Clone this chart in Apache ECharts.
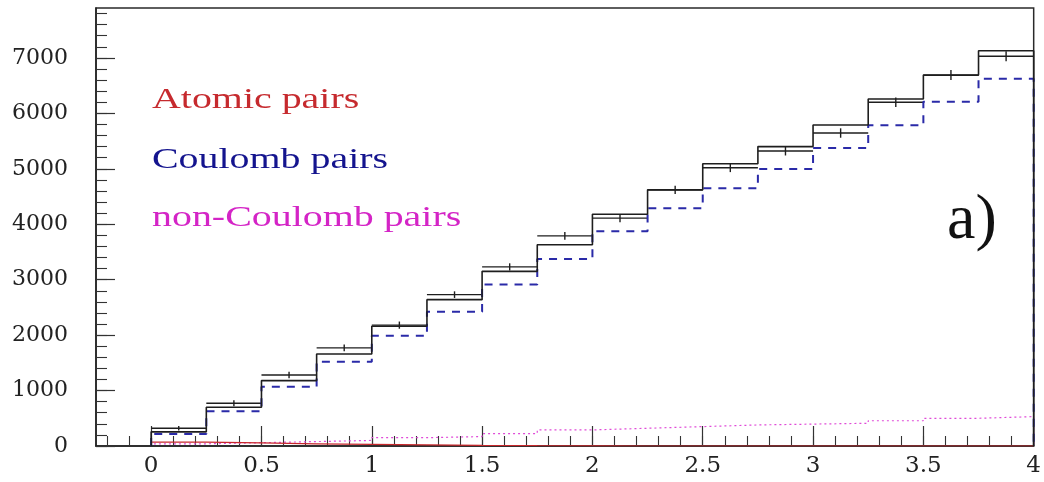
<!DOCTYPE html>
<html>
<head>
<meta charset="utf-8">
<script src="https://cdn.jsdelivr.net/npm/echarts@6/dist/echarts.min.js"></script>
<style>
  html, body { margin: 0; padding: 0; background: #ffffff; }
  #chart { width: 1044px; height: 482px; }
</style>
</head>
<body>
<div id="chart"></div>
<script>
// Histogram bin edges (Q, MeV/c)
const binEdges = [0, 0.25, 0.5, 0.75, 1, 1.25, 1.5, 1.75, 2, 2.25, 2.5, 2.75, 3, 3.25, 3.5, 3.75, 4];

// Measured counts with statistical errors
const dataCounts = [320, 770, 1280, 1770, 2180, 2730, 3230, 3790, 4110, 4620, 5020, 5320, 5645, 6200, 6690, 7030];
const dataErrors = [40, 55, 60, 60, 65, 60, 65, 70, 75, 75, 80, 80, 85, 85, 90, 90];

// Sum of fitted components
const fitSum = [255, 698, 1180, 1660, 2160, 2640, 3150, 3630, 4180, 4620, 5090, 5400, 5790, 6260, 6690, 7130];

// Components
const coulombPairs = [215, 625, 1070, 1520, 1990, 2420, 2915, 3375, 3875, 4290, 4650, 4995, 5375, 5785, 6210, 6625];
const nonCoulombPairs = [40, 60, 80, 100, 150, 170, 225, 290, 320, 350, 380, 395, 410, 455, 500, 530];
const atomicPairs = [70, 55, 40, 30, 20, 12, 6, 3, 0, 0, 0, 0, 0, 0, 0, 0];

// Axis ticks and labels
const xTickLabels = [0, 0.5, 1, 1.5, 2, 2.5, 3, 3.5, 4];
const yTickLabels = [0, 1000, 2000, 3000, 4000, 5000, 6000, 7000];

// Minor ticks: every 0.1 on x, every 200 on y
const xMinorTicks = [];
for (let k = -2; k <= 40; k++) xMinorTicks.push(Math.round(k) / 10);
const yMinorTicks = [];
for (let v = 0; v <= 7800; v += 200) yMinorTicks.push(v);

// Outline of a step histogram, starting and ending on the baseline
function stepOutline(values) {
  const pts = [[binEdges[0], 0]];
  values.forEach(function (v, i) {
    pts.push([binEdges[i], v]);
    pts.push([binEdges[i + 1], v]);
  });
  pts.push([binEdges[binEdges.length - 1], 0]);
  return pts;
}

function stepSeries(name, values, color, width, type) {
  return {
    name: name,
    type: 'line',
    data: stepOutline(values),
    symbol: 'none',
    showSymbol: false,
    animation: false,
    silent: true,
    lineStyle: { color: color, width: width, type: type }
  };
}

// Data points: horizontal bin bar plus vertical error bar at bin centre
const dataRows = dataCounts.map(function (v, i) {
  return [binEdges[i], binEdges[i + 1], v, dataErrors[i]];
});

const serifAxis = '"DejaVu Serif", "Liberation Serif", serif';
const serifText = '"Liberation Serif", "DejaVu Serif", serif';

const chart = echarts.init(document.getElementById('chart'), null, { renderer: 'canvas' });

chart.setOption({
  backgroundColor: '#ffffff',
  animation: false,
  grid: {
    left: 96, right: 4, top: 8, bottom: 36,
    show: true, borderColor: '#2a2a2a', borderWidth: 1.5, backgroundColor: 'transparent'
  },
  xAxis: [
    {
      type: 'value', min: -0.25, max: 4,
      axisLine: { show: true, onZero: false, lineStyle: { color: '#222', width: 1.5 } },
      axisTick: { show: true, inside: true, length: 20, customValues: xTickLabels, lineStyle: { color: '#333', width: 1.2 } },
      axisLabel: {
        show: true, customValues: xTickLabels, margin: 9,
        color: '#222', fontFamily: serifAxis, fontSize: 23,
        formatter: function (v) { return String(v); }
      },
      splitLine: { show: false }
    },
    {
      type: 'value', min: -0.25, max: 4, position: 'bottom', offset: 0,
      axisLine: { show: false, onZero: false },
      axisTick: { show: true, inside: true, length: 10, customValues: xMinorTicks, lineStyle: { color: '#333', width: 1.1 } },
      axisLabel: { show: false },
      splitLine: { show: false }
    }
  ],
  yAxis: [
    {
      type: 'value', min: 0, max: 7900,
      axisLine: { show: true, onZero: false, lineStyle: { color: '#222', width: 1.5 } },
      axisTick: { show: true, inside: true, length: 19, customValues: yTickLabels, lineStyle: { color: '#333', width: 1.2 } },
      axisLabel: {
        show: true, customValues: yTickLabels, margin: 28,
        color: '#222', fontFamily: serifAxis, fontSize: 22,
        formatter: function (v) { return String(v); }
      },
      splitLine: { show: false }
    },
    {
      type: 'value', min: 0, max: 7900, position: 'left', offset: 0,
      axisLine: { show: false, onZero: false },
      axisTick: { show: true, inside: true, length: 11, customValues: yMinorTicks, lineStyle: { color: '#333', width: 1.1 } },
      axisLabel: { show: false },
      splitLine: { show: false }
    }
  ],
  series: [
    stepSeries('non-Coulomb pairs', nonCoulombPairs, '#e04ad8', 1.2, [2, 3]),
    stepSeries('Atomic pairs', atomicPairs, '#c8282c', 1.2, 'solid'),
    stepSeries('Coulomb pairs', coulombPairs, '#2a2aa8', 2, [8, 7]),
    stepSeries('Sum', fitSum, '#1e1e1e', 1.6, 'solid'),
    {
      name: 'Data',
      type: 'custom',
      animation: false,
      silent: true,
      data: dataRows,
      renderItem: function (params, api) {
        const x0 = api.value(0), x1 = api.value(1), v = api.value(2), e = api.value(3);
        const pL = api.coord([x0, v]);
        const pR = api.coord([x1, v]);
        const xc = (x0 + x1) / 2;
        const pT = api.coord([xc, v + e]);
        const pB = api.coord([xc, v - e]);
        const st = { stroke: '#1e1e1e', lineWidth: 1.4, fill: null };
        return {
          type: 'group',
          children: [
            { type: 'line', shape: { x1: pL[0], y1: pL[1], x2: pR[0], y2: pR[1] }, style: st },
            { type: 'line', shape: { x1: pT[0], y1: pT[1], x2: pB[0], y2: pB[1] }, style: st }
          ]
        };
      }
    }
  ],
  graphic: [
    {
      type: 'text', x: 152, y: 100, scaleX: 1.33, silent: true,
      style: { text: 'Atomic pairs', fill: '#c62a2e', font: '30px ' + serifText, verticalAlign: 'middle', align: 'left' }
    },
    {
      type: 'text', x: 152, y: 160, scaleX: 1.33, silent: true,
      style: { text: 'Coulomb pairs', fill: '#14148e', font: '30px ' + serifText, verticalAlign: 'middle', align: 'left' }
    },
    {
      type: 'text', x: 152, y: 218, scaleX: 1.33, silent: true,
      style: { text: 'non-Coulomb pairs', fill: '#d424c6', font: '30px ' + serifText, verticalAlign: 'middle', align: 'left' }
    },
    {
      type: 'text', x: 947, y: 221, silent: true,
      style: { text: 'a)', fill: '#111', font: '64px ' + serifText, verticalAlign: 'middle', align: 'left' }
    }
  ]
});
</script>
</body>
</html>
